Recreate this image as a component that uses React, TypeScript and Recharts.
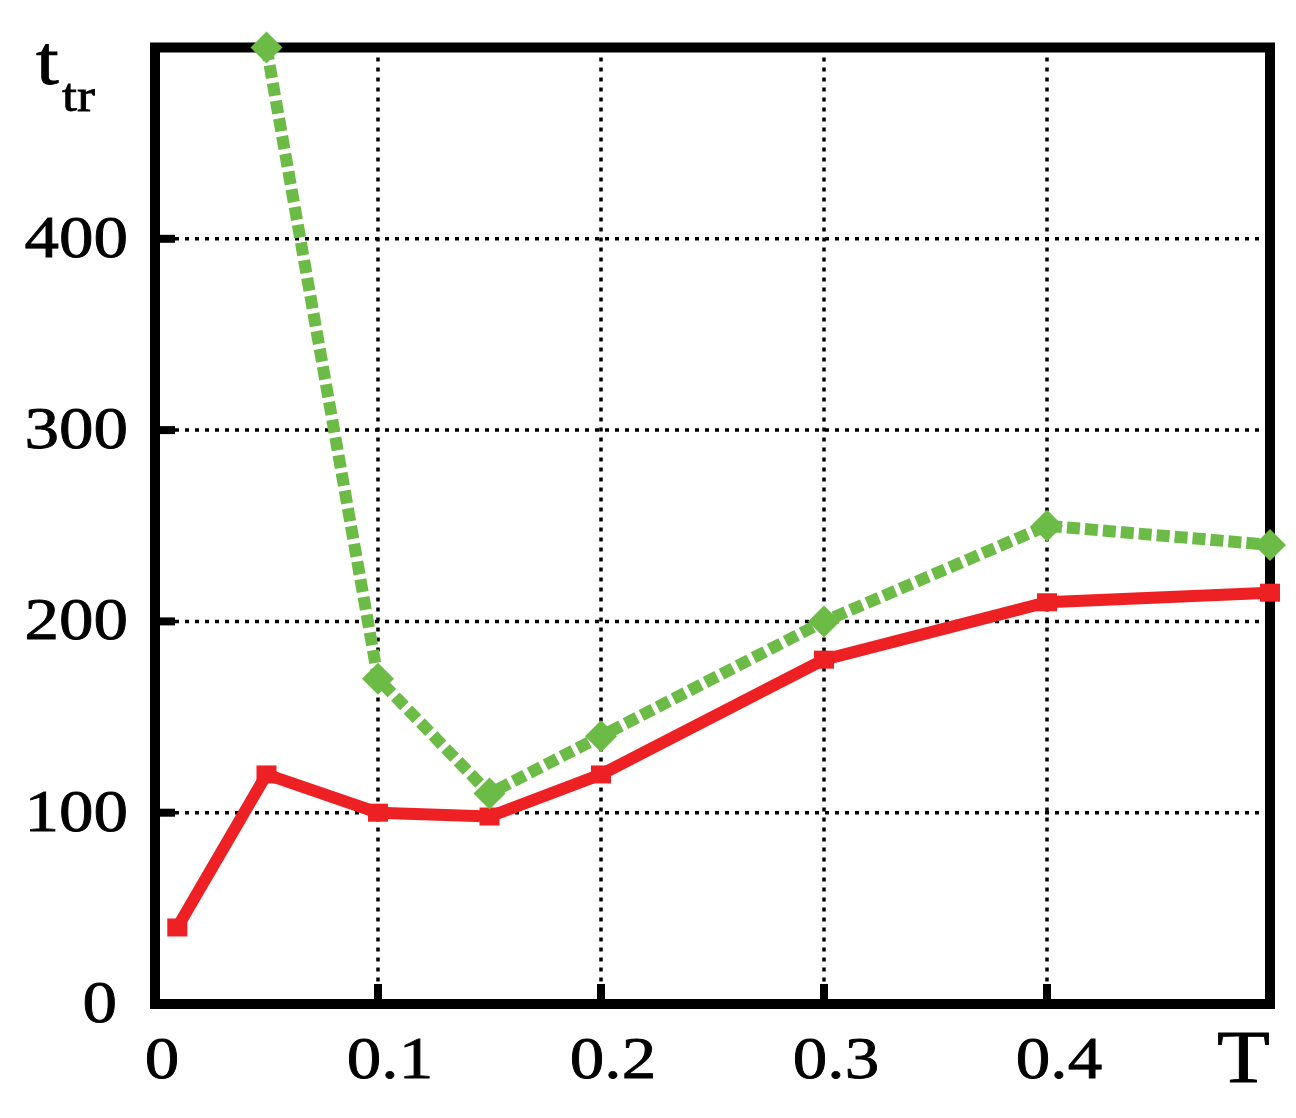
import React from 'react';
import { LineChart, Line, XAxis, YAxis, CartesianGrid, ReferenceArea } from 'recharts';

// values
const temperatures = [0.01, 0.05, 0.1, 0.15, 0.2, 0.3, 0.4, 0.5];
const redTimes = [40, 120, 100, 98, 120, 180, 210, 215];
const greenTimes = [null, 500, 170, 110, 140, 200, 250, 240];

const xTicks = [0, 0.1, 0.2, 0.3, 0.4, 0.5];
const xTickLabels = ['0', '0.1', '0.2', '0.3', '0.4', 'T'];
const yTicks = [0, 100, 200, 300, 400, 500];
const yTickLabels = ['0', '100', '200', '300', '400', ''];

const FONT = 'Liberation Serif, Times New Roman, Times, serif';
const RED = '#ed2024';
const GREEN = '#6cbb46';
const STRETCH = 1.17;
const MARK = 20;

const data = temperatures.map((t, i) => ({ T: t, red: redTimes[i], green: greenTimes[i] }));

interface TickProps {
  x?: number;
  y?: number;
  index?: number;
}

const textStyle = { fontFamily: FONT, fill: '#000', stroke: '#000', strokeWidth: 0.8 };

const BottomTick: React.FC<TickProps> = ({ x = 0, y = 0, index = 0 }) => {
  const label = xTickLabels[index];
  const inner = index > 0 && index < xTicks.length - 1;
  const isT = label === 'T';
  const dx = isT ? 0 : index === 0 ? 7 : 12;
  return (
    <g>
      {inner && <line x1={x} x2={x} y1={y} y2={y - MARK} stroke="#000" strokeWidth={8} />}
      <g transform={`translate(${x + dx},${isT ? y + 78 : y + 74}) scale(${STRETCH},1)`}>
        <text x={0} y={0} textAnchor={isT ? 'end' : 'middle'} fontSize={isT ? 74 : 59} style={textStyle}>
          {label}
        </text>
      </g>
    </g>
  );
};

const LeftTick: React.FC<TickProps> = ({ x = 0, y = 0, index = 0 }) => {
  const label = yTickLabels[index];
  const inner = index > 0 && index < yTicks.length - 1;
  if (index === yTicks.length - 1) {
    // axis title t_tr sits where the 500 label would be
    return (
      <g>
        <g transform={`translate(36,${y + 36}) scale(${STRETCH},1)`}>
          <text x={0} y={0} fontSize={70} style={textStyle}>t</text>
        </g>
        <g transform={`translate(62,${y + 63}) scale(${STRETCH},1)`}>
          <text x={0} y={0} fontSize={46} style={textStyle}>tr</text>
        </g>
      </g>
    );
  }
  const dx = index === 0 ? -38 : -27;
  return (
    <g>
      {inner && <line x1={x} x2={x + MARK} y1={y} y2={y} stroke="#000" strokeWidth={8} />}
      <g transform={`translate(${x + dx},${y + 18}) scale(${STRETCH},1)`}>
        <text x={0} y={0} textAnchor="end" fontSize={59} style={textStyle}>
          {label}
        </text>
      </g>
    </g>
  );
};

const TopTick: React.FC<TickProps> = ({ x = 0, y = 0, index = 0 }) => {
  if (index === 0 || index === xTicks.length - 1) return <g />;
  return <line x1={x} x2={x} y1={y} y2={y + MARK} stroke="#000" strokeWidth={8} />;
};

const RightTick: React.FC<TickProps> = ({ x = 0, y = 0, index = 0 }) => {
  if (index === 0 || index === yTicks.length - 1) return <g />;
  return <line x1={x} x2={x - MARK} y1={y} y2={y} stroke="#000" strokeWidth={8} />;
};

const SquareDot = (props: any) => {
  const { cx, cy, index } = props;
  if (cx == null || cy == null) return <g key={`r-${index}`} />;
  return <rect key={`r-${index}`} x={cx - 10} y={cy - 9} width={20} height={18} fill={RED} />;
};

const DiamondDot = (props: any) => {
  const { cx, cy, index, value } = props;
  if (cx == null || cy == null || value == null) return <g key={`g-${index}`} />;
  const r = 16;
  return (
    <polygon
      key={`g-${index}`}
      points={`${cx},${cy - r} ${cx + r},${cy} ${cx},${cy + r} ${cx - r},${cy}`}
      fill={GREEN}
    />
  );
};

export default function App() {
  return (
    <div style={{ position: 'absolute', left: 0, top: 0, width: 1296, height: 1118, background: '#fff' }}>
      <LineChart width={1296} height={1118} data={data} margin={{ top: 47.5, right: 26, bottom: 0, left: 0 }}>
        <CartesianGrid stroke="#000" strokeWidth={3.5} strokeDasharray="4 6" />
        <XAxis
          dataKey="T"
          type="number"
          domain={[0, 0.5]}
          ticks={xTicks}
          interval={0}
          height={114}
          axisLine={false}
          tickLine={false}
          tickSize={0}
          tickMargin={0}
          tick={<BottomTick />}
        />
        <XAxis
          xAxisId="top"
          orientation="top"
          type="number"
          domain={[0, 0.5]}
          ticks={xTicks}
          interval={0}
          height={0}
          axisLine={false}
          tickLine={false}
          tickSize={0}
          tickMargin={0}
          tick={<TopTick />}
        />
        <YAxis
          type="number"
          domain={[0, 500]}
          ticks={yTicks}
          interval={0}
          width={155}
          axisLine={false}
          tickLine={false}
          tickSize={0}
          tickMargin={0}
          tick={<LeftTick />}
        />
        <YAxis
          yAxisId="right"
          orientation="right"
          type="number"
          domain={[0, 500]}
          ticks={yTicks}
          interval={0}
          width={0}
          axisLine={false}
          tickLine={false}
          tickSize={0}
          tickMargin={0}
          tick={<RightTick />}
        />
        <ReferenceArea x1={0} x2={0.5} y1={0} y2={500} fill="none" fillOpacity={0} stroke="#000" strokeWidth={10} />
        <Line
          dataKey="red"
          stroke={RED}
          strokeWidth={12}
          dot={SquareDot}
          activeDot={false}
          isAnimationActive={false}
        />
        <Line
          dataKey="green"
          stroke={GREEN}
          strokeWidth={12}
          strokeDasharray="13 5"
          dot={DiamondDot}
          activeDot={false}
          isAnimationActive={false}
        />
      </LineChart>
    </div>
  );
}
